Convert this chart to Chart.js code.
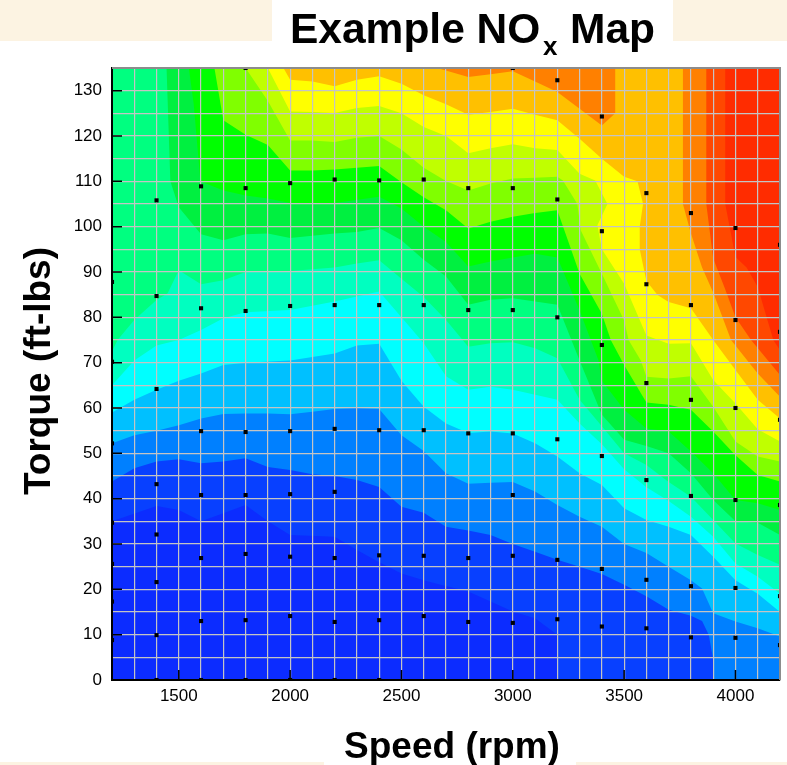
<!DOCTYPE html>
<html>
<head>
<meta charset="utf-8">
<title>Example NOx Map</title>
<style>
  html, body { margin: 0; padding: 0; background: #fff; }
  #wrap { position: relative; width: 787px; height: 765px; overflow: hidden; }
  .patch { position: absolute; background: #fcf3e2; }
  canvas { position: absolute; left: 0; top: 0; }
</style>
<script src="https://cdn.jsdelivr.net/npm/chart.js@4/dist/chart.umd.min.js"></script>
</head>
<body>
<div id="wrap">
  <div class="patch" style="left:0;top:0;width:272px;height:41px"></div>
  <div class="patch" style="left:673px;top:0;width:114px;height:41px"></div>
  <div class="patch" style="left:0;top:762px;width:324px;height:3px"></div>
  <div class="patch" style="left:576px;top:762px;width:211px;height:3px"></div>
  <canvas id="noxMap" width="787" height="765"></canvas>
</div>
<script>
// upper edge of each contour band, as [speed, torque] pairs
const band0 = [[1200,35],[1400,38.4],[1500,37.5],[1600,35],[1700,36.8],[1800,38.6],[1900,35],[2000,32],[2200,31.6],[2300,28.7],[2400,26],[2500,23.5],[2600,22],[2676,21],[2800,19.5],[3000,15.1],[3100,13.6],[3200,10],[3200,0]];
const band1 = [[1200,43.8],[1300,46.7],[1400,48.2],[1500,48.7],[1600,47.8],[1700,48.2],[1800,48.9],[1900,47],[2000,46.3],[2100,45.4],[2200,45],[2300,44.1],[2400,42.6],[2500,38.2],[2600,36.9],[2700,33.8],[2800,33],[2900,32],[3000,30],[3100,28.3],[3200,26.5],[3300,25],[3400,23.4],[3500,21],[3600,18.5],[3700,15.5],[3800,14.2],[3850,13],[3880,10],[3900,4.5],[3900,0]];
const band2 = [[1200,52.2],[1300,54],[1400,55],[1500,56.2],[1600,57.7],[1700,58.7],[1800,58.8],[1900,58.8],[2000,58.6],[2100,59.2],[2200,59.8],[2300,60],[2400,59.8],[2500,54],[2600,50.5],[2700,45.6],[2800,43.3],[2900,43.5],[3000,43.7],[3100,41.6],[3200,38.6],[3300,36],[3400,33.8],[3500,30],[3600,28],[3700,25],[3800,22],[3850,20.2],[3900,14.7],[4000,12.9],[4100,11.4],[4200,9.6]];
const band3 = [[1200,59],[1300,61.8],[1400,64],[1500,66],[1600,67.6],[1700,69.5],[1800,70],[2000,70.5],[2200,72],[2300,73.8],[2400,74.2],[2500,66],[2600,60.3],[2700,56.6],[2800,54.5],[2900,54.8],[3000,54.4],[3100,52.2],[3200,49.3],[3300,45.6],[3400,43],[3500,37.9],[3600,35.3],[3700,33.8],[3800,32],[3900,27.2],[4000,22],[4100,19],[4200,15]];
const band4 = [[1200,65],[1300,70.5],[1400,73.8],[1500,75],[1600,77.2],[1700,79.8],[1800,81.1],[2000,81.6],[2200,83.5],[2300,84.6],[2400,85.7],[2500,80],[2600,74.3],[2700,67],[2800,64],[2900,64.7],[3000,64],[3100,62.9],[3200,61.8],[3300,56.6],[3400,52],[3500,46.5],[3600,42.5],[3700,39.5],[3800,36],[3900,31.6],[4000,25.7],[4100,22.8],[4200,19]];
const band5 = [[1200,72.5],[1225,75],[1300,79.4],[1400,83.8],[1450,85.3],[1500,90.4],[1600,87.3],[1700,88.2],[1800,90],[2000,90.2],[2200,91],[2300,91.9],[2400,92.6],[2500,88.5],[2600,84.5],[2700,79.4],[2800,73.5],[2900,74.3],[3000,74.5],[3100,73.2],[3200,71],[3300,61.8],[3400,56],[3500,50],[3600,47.4],[3700,43.7],[3800,40.4],[3900,35.3],[4000,30.1],[4100,27.6],[4200,25.4]];
const band6 = [[1200,140],[1445,140],[1445,135],[1462,110],[1500,104.3],[1600,98.3],[1700,97],[1800,98.3],[1900,98.5],[2000,97.5],[2200,98.5],[2300,98.8],[2400,99.7],[2500,97],[2600,92.7],[2700,89],[2800,82.8],[2900,83.9],[3000,84.2],[3100,83.5],[3200,82.8],[3300,70.5],[3400,58.5],[3500,53],[3600,51.6],[3700,50],[3800,45.6],[3900,39.7],[4000,35],[4100,34.7],[4200,32]];
const band7 = [[1200,140],[1545,140],[1545,135],[1567,127],[1597,110],[1700,108],[1800,106.9],[1900,106.2],[2000,105.2],[2200,105.2],[2400,106.6],[2500,104],[2600,100],[2700,96.6],[2800,91.2],[2900,92.3],[3000,93.2],[3100,94],[3200,93.2],[3300,81.5],[3385,70.5],[3400,66],[3500,59.6],[3600,55.5],[3700,54.8],[3800,50.4],[3900,45.6],[4000,39.7],[4100,39],[4200,37.5]];
const band8 = [[1200,140],[1660,140],[1660,135],[1700,123.5],[1800,120.3],[1900,118],[2000,112.4],[2100,112.4],[2200,112.6],[2300,113],[2400,113.4],[2500,109.8],[2600,106.5],[2700,103.6],[2800,99.6],[2900,101.1],[3000,102.2],[3100,103],[3200,103.6],[3300,89.6],[3400,80.8],[3440,75],[3500,69.5],[3600,61.2],[3700,60.7],[3800,59.6],[3900,54.8],[4000,49.6],[4100,45.2],[4200,43.8]];
const band9 = [[1200,140],[1800,140],[1800,135],[1900,127.7],[2000,119],[2100,119],[2200,118.7],[2300,119.6],[2400,120],[2500,117],[2600,113],[2700,110.1],[2800,108],[2900,109.5],[3000,110.6],[3100,110.8],[3200,111],[3225,110.2],[3290,105],[3305,99.2],[3400,89.6],[3500,79.3],[3520,75],[3575,70.5],[3600,66.9],[3700,66.5],[3800,67],[3900,60.3],[4000,52.6],[4100,49.3],[4200,48.2]];
const band10 = [[1200,140],[1900,140],[1900,135],[2000,125.4],[2100,125.3],[2200,125.1],[2300,126.2],[2400,126.6],[2500,125],[2600,122],[2700,120],[2800,116.2],[2900,117.3],[3000,118.2],[3100,117.3],[3200,116.9],[3300,111.7],[3370,110.2],[3425,105],[3380,100.3],[3400,95],[3500,87.4],[3600,76],[3700,74.2],[3800,74.3],[3900,66.2],[4000,61],[4100,55.3],[4200,52.6]];
const band11 = [[1200,140],[1970,140],[1970,135],[2000,132.4],[2100,132],[2200,131],[2300,132.4],[2400,133.2],[2500,131.5],[2600,129],[2700,127],[2800,124.7],[2900,125.3],[3000,126],[3100,124.7],[3200,123.5],[3300,119.4],[3400,115],[3500,111],[3560,110],[3585,105],[3570,100],[3570,95],[3600,88],[3650,84.9],[3700,83.4],[3800,82],[3900,75],[4000,68.4],[4100,61.8],[4200,57.7]];
const band12 = [[1200,140],[2660,140],[2660,135],[2800,133],[2900,133.6],[3000,134.3],[3100,132],[3200,129.7],[3300,126],[3400,122.3],[3460,125],[3460,140],[3764,140],[3764,105],[3800,98.5],[3850,91],[3900,85.5],[3980,75],[4100,67.6],[4200,62.5]];
const band13 = [[1200,140],[3869,140],[3869,105],[3900,93],[3950,86.7],[4000,80],[4070,75],[4200,67.3]];
const band14 = [[1200,140],[3954,140],[3954,105],[4000,93.3],[4050,91],[4100,86.7],[4170,75],[4200,72.8]];
const band15 = [[1200,140],[4200,140]];
const bands = [band0, band1, band2, band3, band4, band5, band6, band7, band8, band9, band10, band11, band12, band13, band14, band15];
const bandColors = ['#0c2cff','#0840ff','#0080ff','#00c0ff','#00ffff','#00ffc0','#00ff80','#00f040','#00ff00','#80ff00','#c0ff00','#ffff00','#ffc000','#ff8000','#ff4800','#ff2c00'];

// measured test points
const pointSpeeds = [1200,1200,1200,1200,1200,1200,1200,
  1400,1400,1400,1400,1400,1400,1400,1400,
  1600,1600,1600,1600,1600,1600,1600,
  1800,1800,1800,1800,1800,1800,1800,1800,
  2000,2000,2000,2000,2000,2000,2000,
  2200,2200,2200,2200,2200,2200,2200,
  2400,2400,2400,2400,2400,2400,
  2600,2600,2600,2600,2600,
  2800,2800,2800,2800,2800,
  3000,3000,3000,3000,3000,3000,3000,
  3200,3200,3200,3200,3200,3200,
  3400,3400,3400,3400,3400,3400,
  3600,3600,3600,3600,3600,3600,
  3800,3800,3800,3800,3800,3800,
  4000,4000,4000,4000,4000,4000,
  4200,4200,4200,4200,4200,4200];
const pointTorques = [87.8,70.2,52.2,34.7,25.6,17.3,8.8,
  105.8,84.7,64.2,43.2,32.1,21.6,9.9,0,
  108.9,82,54.9,40.8,26.9,13,0,
  135,108.5,81.4,54.7,40.8,27.8,13.2,0,
  109.6,82.5,54.9,41,27.2,14.1,0,
  110.4,82.7,55.4,41.5,26.9,12.8,0,
  110.2,82.7,55.1,27.5,13.2,0,
  110.4,82.7,55.1,27.4,14.1,
  108.5,81.6,54.4,26.9,12.8,
  135,108.5,81.6,54.4,40.8,27.4,12.6,
  132.3,106,80,53.1,26.5,13.4,
  124.3,99,73.9,49.4,24.5,11.8,
  107.4,87.3,65.5,44.1,22.1,11.4,
  103,82.7,61.8,40.6,20.7,9.4,
  99.7,79.4,60,39.7,20.3,9.3,
  96,76.8,57.4,38.6,18.5,7.7];

const FONT = '"Liberation Sans", Arial, sans-serif';
const GRID = '#c4c4c4';

const datasets = bands.map((band, i) => ({
  label: 'band ' + i,
  data: band.map(([x, y]) => ({x, y})),
  showLine: true,
  fill: 'origin',
  backgroundColor: bandColors[i],
  borderWidth: 0,
  pointRadius: 0,
  tension: 0
}));
datasets.unshift({
  label: 'test points',
  data: pointSpeeds.map((x, i) => ({x, y: pointTorques[i]})),
  showLine: false,
  fill: false,
  pointStyle: 'rect',
  pointRadius: 2.9,
  pointBorderWidth: 0,
  pointBackgroundColor: '#000'
});

// inward tick marks plus the axis and chart titles
const mapFrame = {
  id: 'mapFrame',
  afterDraw(chart) {
    const {ctx, chartArea: {left, right, top, bottom}, scales: {x, y}} = chart;
    ctx.save();
    ctx.strokeStyle = '#000';
    ctx.lineWidth = 1.5;
    ctx.beginPath();
    x.ticks.forEach(t => {
      if (t.value % 500 === 0) {
        const px = x.getPixelForValue(t.value);
        ctx.moveTo(px, bottom);
        ctx.lineTo(px, bottom - 10);
      }
    });
    y.ticks.forEach(t => {
      if (t.value % 10 === 0) {
        const py = y.getPixelForValue(t.value);
        ctx.moveTo(left, py);
        ctx.lineTo(left + 10, py);
      }
    });
    ctx.stroke();

    ctx.lineWidth = 2;
    ctx.strokeStyle = '#8c8c8c';
    ctx.beginPath();
    ctx.moveTo(left, top);
    ctx.lineTo(right, top);
    ctx.lineTo(right, bottom);
    ctx.stroke();

    ctx.fillStyle = '#000';
    ctx.textBaseline = 'alphabetic';
    ctx.textAlign = 'left';
    ctx.font = 'bold 42.5px ' + FONT;
    ctx.fillText('Example NO', 290, 43);
    ctx.fillText('Map', 570, 43);
    ctx.font = 'bold 26px ' + FONT;
    ctx.fillText('x', 543, 55);

    ctx.font = 'bold 37px ' + FONT;
    ctx.textAlign = 'center';
    ctx.fillText('Speed (rpm)', 452, 758);
    ctx.translate(50, 371);
    ctx.rotate(-Math.PI / 2);
    ctx.fillText('Torque (ft-lbs)', 0, 0);
    ctx.restore();
  }
};

new Chart(document.getElementById('noxMap'), {
  type: 'scatter',
  data: {datasets},
  options: {
    responsive: false,
    animation: false,
    layout: {padding: {top: 68, right: 7, left: 0, bottom: 0}},
    plugins: {
      legend: {display: false},
      tooltip: {enabled: false},
      filler: {drawTime: 'beforeDraw'}
    },
    scales: {
      x: {
        type: 'linear',
        min: 1200,
        max: 4200,
        afterFit(scale) { scale.height = 85; },
        grid: {color: GRID, lineWidth: 1.2, drawTicks: false},
        border: {color: '#000', width: 2},
        ticks: {
          stepSize: 100,
          autoSkip: false,
          maxRotation: 0,
          padding: 6,
          color: '#000',
          font: {family: FONT, size: 17},
          callback: v => v % 500 === 0 ? String(v) : ''
        }
      },
      y: {
        type: 'linear',
        min: 0,
        max: 135,
        afterFit(scale) { scale.width = 112; },
        grid: {color: GRID, lineWidth: 1.2, drawTicks: false},
        border: {color: '#000', width: 2},
        ticks: {
          stepSize: 5,
          autoSkip: false,
          padding: 10,
          color: '#000',
          font: {family: FONT, size: 17},
          callback: v => v % 10 === 0 ? String(v) : ''
        }
      }
    }
  },
  plugins: [mapFrame]
});
</script>
</body>
</html>
